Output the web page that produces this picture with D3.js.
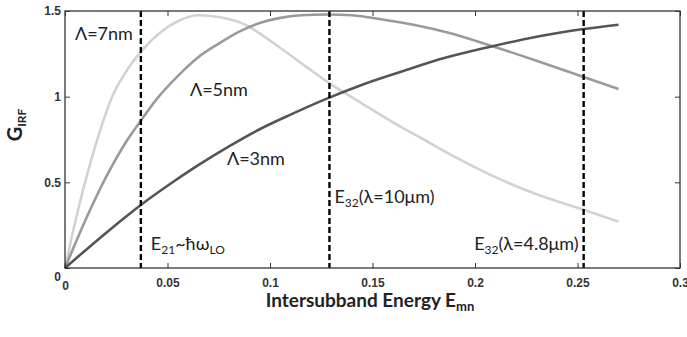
<!DOCTYPE html>
<html>
<head>
<meta charset="utf-8">
<script src="https://cdn.jsdelivr.net/npm/d3@7"></script>
<style>
  body { margin: 0; background: #fff; }
  svg { display: block; }
</style>
</head>
<body>
<svg id="chart"></svg>
<script>
// chart size
const width = 687, height = 337;
const margin = {top: 11, right: 7, bottom: 69, left: 65};

// data
const xTicks = [0, 0.05, 0.1, 0.15, 0.2, 0.25, 0.3];
const xTickLabels = ["0", "0.05", "0.1", "0.15", "0.2", "0.25", "0.3"];
const yTicks = [0, 0.5, 1, 1.5];
const yTickLabels = ["0", "0.5", "1", "1.5"];

const lambda7 = [[0,0],[0.005,0.27],[0.01,0.51],[0.016,0.76],[0.023,1.0],[0.03,1.15],[0.0376,1.27],
  [0.046,1.37],[0.055,1.44],[0.065,1.475],[0.075,1.465],[0.088,1.42],[0.102,1.31],[0.117,1.18],
  [0.13,1.07],[0.145,0.96],[0.16,0.85],[0.175,0.75],[0.19,0.65],[0.21,0.53],[0.23,0.43],[0.253,0.34],[0.27,0.27]];
const lambda5 = [[0,0],[0.01,0.28],[0.02,0.53],[0.03,0.74],[0.037,0.86],[0.045,0.99],[0.055,1.12],
  [0.065,1.23],[0.075,1.31],[0.085,1.38],[0.095,1.43],[0.105,1.46],[0.115,1.475],[0.128,1.48],
  [0.14,1.475],[0.155,1.45],[0.17,1.42],[0.188,1.37],[0.207,1.30],[0.23,1.21],[0.253,1.115],[0.27,1.045]];
const lambda3 = [[0,0],[0.02,0.205],[0.037,0.368],[0.05,0.48],[0.065,0.6],[0.08,0.71],[0.095,0.81],
  [0.11,0.895],[0.128,0.99],[0.145,1.07],[0.165,1.15],[0.185,1.225],[0.207,1.29],[0.23,1.35],
  [0.253,1.395],[0.27,1.42]];
const markers = [0.037, 0.129, 0.253];

const svg = d3.select("#chart").attr("width", width).attr("height", height);

const x = d3.scaleLinear().domain([0, 0.3]).range([margin.left, width - margin.right]);
const y = d3.scaleLinear().domain([0, 1.5]).range([height - margin.bottom, margin.top]);

// curves
const line = d3.line().x(d => x(d[0])).y(d => y(d[1])).curve(d3.curveMonotoneX);
const series = [
  {data: lambda7, color: "#d2d2d2"},
  {data: lambda5, color: "#9a9a9a"},
  {data: lambda3, color: "#555555"}
];
svg.selectAll(".curve").data(series).enter().append("path")
  .attr("class", "curve")
  .attr("d", d => line(d.data))
  .attr("fill", "none")
  .attr("stroke", d => d.color)
  .attr("stroke-width", 2.6);

// dashed markers
svg.selectAll(".marker").data(markers).enter().append("line")
  .attr("x1", d => x(d)).attr("x2", d => x(d))
  .attr("y1", y(1.5)).attr("y2", y(0))
  .attr("stroke", "#000").attr("stroke-width", 2.4)
  .attr("stroke-dasharray", "6,3");

// frame and ticks
const frame = svg.append("g").attr("stroke", "#333").attr("stroke-width", 1.3);
frame.append("rect")
  .attr("x", x(0)).attr("y", y(1.5))
  .attr("width", x(0.3) - x(0)).attr("height", y(0) - y(1.5))
  .attr("fill", "none");

const axStyle = g => {
  g.select(".domain").remove();
  g.selectAll(".tick line").attr("stroke", "#333").attr("stroke-width", 1);
  g.selectAll(".tick text").attr("fill", "#333")
    .style("font-family", "Liberation Sans, Arial, sans-serif")
    .style("font-size", "12px").style("font-weight", "bold");
};

svg.append("g").attr("transform", `translate(0,${y(0)})`)
  .call(d3.axisBottom(x).tickValues(xTicks).tickSizeInner(-5).tickPadding(10)
    .tickFormat((d, i) => xTickLabels[i]))
  .call(axStyle);
svg.append("g").attr("transform", `translate(0,${y(1.5)})`)
  .call(d3.axisTop(x).tickValues(xTicks).tickSizeInner(-5).tickFormat(""))
  .call(axStyle);
svg.append("g").attr("transform", `translate(${x(0)},0)`)
  .call(d3.axisLeft(y).tickValues(yTicks).tickSizeInner(-5).tickPadding(4)
    .tickFormat((d, i) => yTickLabels[i]))
  .call(axStyle);
svg.append("g").attr("transform", `translate(${x(0.3)},0)`)
  .call(d3.axisRight(y).tickValues(yTicks).tickSizeInner(-5).tickFormat(""))
  .call(axStyle);

// nudge the corner zeros like the original
svg.selectAll("text").filter(function() { return this.textContent === "0"; })
  .attr("dy", "1.0em");

// text labels
const font = "Lato, Open Sans, sans-serif";
const labels = svg.append("g").style("font-family", font).attr("fill", "#222");

labels.append("text").attr("x", 75).attr("y", 40).style("font-size", "18px").text("Λ=7nm");
labels.append("text").attr("x", 190).attr("y", 96).style("font-size", "18px").text("Λ=5nm");
labels.append("text").attr("x", 227).attr("y", 165).style("font-size", "18px").text("Λ=3nm");

const e21 = labels.append("text").attr("x", x(0.037) + 10).attr("y", 250).style("font-size", "18px");
e21.append("tspan").text("E");
e21.append("tspan").attr("font-size", "12px").attr("dy", 4).text("21");
e21.append("tspan").attr("dy", -4).text("~ħω");
e21.append("tspan").attr("font-size", "12px").attr("dy", 4).text("LO");

const e32a = labels.append("text").attr("x", x(0.129) + 5).attr("y", 203).style("font-size", "18px");
e32a.append("tspan").text("E");
e32a.append("tspan").attr("font-size", "12px").attr("dy", 4).text("32");
e32a.append("tspan").attr("dy", -4).text("(λ=10μm)");

const e32b = labels.append("text").attr("x", x(0.253) - 5).attr("y", 250)
  .attr("text-anchor", "end").style("font-size", "18px");
e32b.append("tspan").text("E");
e32b.append("tspan").attr("font-size", "12px").attr("dy", 4).text("32");
e32b.append("tspan").attr("dy", -4).text("(λ=4.8μm)");

// axis titles
const xt = svg.append("text").attr("x", 370).attr("y", 307).attr("text-anchor", "middle")
  .style("font-family", font).style("font-size", "19px").style("font-weight", "bold").attr("fill", "#222");
xt.append("tspan").text("Intersubband Energy E");
xt.append("tspan").attr("font-size", "13px").attr("dy", 4).text("mn");

const yt = svg.append("text").attr("transform", "translate(22,125) rotate(-90)").attr("text-anchor", "middle")
  .style("font-family", font).style("font-size", "20px").style("font-weight", "bold").attr("fill", "#222");
yt.append("tspan").text("G");
yt.append("tspan").attr("font-size", "12px").attr("dy", 4).text("IRF");
</script>
</body>
</html>
